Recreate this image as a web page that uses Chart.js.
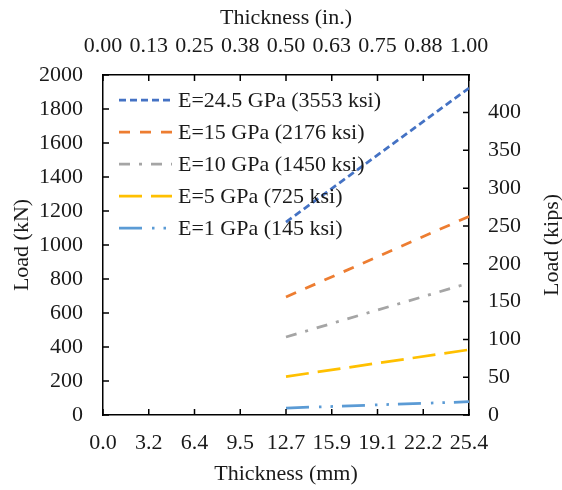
<!DOCTYPE html>
<html>
<head>
<meta charset="utf-8">
<script src="https://cdn.jsdelivr.net/npm/chart.js@4.4.1/dist/chart.umd.min.js"></script>
<style>
  html, body { margin: 0; padding: 0; background: #fff; }
  #wrap { width: 562px; height: 490px; }
</style>
</head>
<body>
<div id="wrap"><canvas id="chart" width="562" height="490"></canvas></div>
<script>
// ---------- datos ----------
const seriesNames = [
    'E=24.5 GPa (3553 ksi)',
    'E=15 GPa (2176 ksi)',
    'E=10 GPa (1450 ksi)',
    'E=5 GPa (725 ksi)',
    'E=1 GPa (145 ksi)'
];
const thicknessMm = [12.7, 25.4];
const loadE245 = [1135, 1923];
const loadE15 = [694, 1168];
const loadE10 = [459, 776];
const loadE5 = [226, 384];
const loadE1 = [41, 78];

const mmTickValues = [0, 3.175, 6.35, 9.525, 12.7, 15.875, 19.05, 22.225, 25.4];
const mmTickLabels = ['0.0', '3.2', '6.4', '9.5', '12.7', '15.9', '19.1', '22.2', '25.4'];
const inTickValues = [0, 0.125, 0.25, 0.375, 0.5, 0.625, 0.75, 0.875, 1];
const inTickLabels = ['0.00', '0.13', '0.25', '0.38', '0.50', '0.63', '0.75', '0.88', '1.00'];
const kNTickValues = [0, 200, 400, 600, 800, 1000, 1200, 1400, 1600, 1800, 2000];
const kipsTickValues = [0, 50, 100, 150, 200, 250, 300, 350, 400];
const KN_PER_KIP = 4.448222;

const FONT = "'Liberation Serif', 'Times New Roman', serif";
const FS = 22;
const TXT = '#1a1a1a';

const styles = [
    { color: '#4472c4', dash: [7, 4] },
    { color: '#ed7d31', dash: [11, 10] },
    { color: '#a5a5a5', dash: [11, 9, 3, 9] },
    { color: '#ffc000', dash: [23, 9] },
    { color: '#5b9bd5', dash: [23, 10, 2.5, 9, 2.5, 9] }
];
const seriesLoads = [loadE245, loadE15, loadE10, loadE5, loadE1];

const ctx = document.getElementById('chart');

// ---------- leyenda dentro del área ----------
const insideLegend = {
    id: 'insideLegend',
    afterDraw(chart) {
        const c = chart.ctx;
        const a = chart.chartArea;
        const x0 = a.left + 16;
        let y = a.top + 25;
        c.save();
        c.font = FS + 'px ' + FONT;
        c.textBaseline = 'middle';
        c.fillStyle = TXT;
        chart.data.datasets.forEach(ds => {
            c.beginPath();
            c.strokeStyle = ds.borderColor;
            c.lineWidth = ds.borderWidth;
            c.setLineDash(ds.borderDash);
            c.moveTo(x0, y);
            c.lineTo(x0 + 53, y);
            c.stroke();
            c.setLineDash([]);
            c.fillText(ds.label, x0 + 59, y + 1);
            y += 32;
        });
        c.restore();
    }
};

// ---------- marcas hacia dentro + título derecho ----------
const insideTicks = {
    id: 'insideTicks',
    afterDatasetsDraw(chart) {
        const c = chart.ctx;
        const a = chart.chartArea;
        const len = 6;
        c.save();
        c.strokeStyle = '#000';
        c.lineWidth = 1.5;
        c.beginPath();
        chart.scales.x.ticks.forEach(t => {
            const px = chart.scales.x.getPixelForValue(t.value);
            c.moveTo(px, a.bottom); c.lineTo(px, a.bottom - len);
        });
        chart.scales.x2.ticks.forEach(t => {
            const px = chart.scales.x2.getPixelForValue(t.value);
            c.moveTo(px, a.top); c.lineTo(px, a.top + len);
        });
        chart.scales.y.ticks.forEach(t => {
            const py = chart.scales.y.getPixelForValue(t.value);
            c.moveTo(a.left, py); c.lineTo(a.left + len, py);
        });
        chart.scales.y2.ticks.forEach(t => {
            const py = chart.scales.y2.getPixelForValue(t.value);
            c.moveTo(a.right, py); c.lineTo(a.right - len, py);
        });
        c.stroke();

        // el título de la derecha se lee de abajo hacia arriba
        c.translate(552, (a.top + a.bottom) / 2);
        c.rotate(-Math.PI / 2);
        c.font = FS + 'px ' + FONT;
        c.fillStyle = TXT;
        c.textAlign = 'center';
        c.textBaseline = 'middle';
        c.fillText('Load (kips)', 0, 0);
        c.restore();
    }
};

function setTicks(values) {
    return (scale) => { scale.ticks = values.map(v => ({ value: v })); };
}
function fixWidth(w) {
    return (scale) => { scale.width = w; };
}
function fixHeight(h) {
    return (scale) => { scale.height = h; };
}

const axisBase = {
    grid: { display: true, drawOnChartArea: false, drawTicks: false },
    border: { display: true, color: '#000', width: 1.5 },
};
const tickFont = { family: FONT, size: FS };

new Chart(ctx, {
    type: 'line',
    data: {
        datasets: seriesNames.map((name, i) => ({
            label: name,
            data: thicknessMm.map((x, j) => ({ x: x, y: seriesLoads[i][j] })),
            borderColor: styles[i].color,
            borderDash: styles[i].dash,
            borderWidth: 2.75,
            pointRadius: 0,
            tension: 0,
            xAxisID: 'x',
            yAxisID: 'y'
        }))
    },
    options: {
        responsive: false,
        animation: false,
        layout: { padding: 0 },
        plugins: {
            legend: { display: false },
            tooltip: { enabled: false }
        },
        scales: {
            x: {
                ...axisBase,
                type: 'linear',
                position: 'bottom',
                min: 0,
                max: 25.4,
                afterBuildTicks: setTicks(mmTickValues),
                afterFit: fixHeight(75),
                ticks: {
                    color: TXT,
                    font: tickFont,
                    padding: 15,
                    maxRotation: 0,
                    autoSkip: false,
                    callback: (v, i) => mmTickLabels[i]
                },
                title: {
                    display: true,
                    text: 'Thickness (mm)',
                    color: TXT,
                    font: tickFont,
                    padding: { top: 0, bottom: 3 }
                }
            },
            x2: {
                ...axisBase,
                type: 'linear',
                position: 'top',
                min: 0,
                max: 1,
                afterBuildTicks: setTicks(inTickValues),
                afterFit: fixHeight(75),
                ticks: {
                    color: TXT,
                    font: tickFont,
                    padding: 16,
                    maxRotation: 0,
                    autoSkip: false,
                    callback: (v, i) => inTickLabels[i]
                },
                title: {
                    display: true,
                    text: 'Thickness (in.)',
                    color: TXT,
                    font: tickFont,
                    padding: { top: 5, bottom: 0 }
                }
            },
            y: {
                ...axisBase,
                type: 'linear',
                position: 'left',
                min: 0,
                max: 2000,
                afterBuildTicks: setTicks(kNTickValues),
                afterFit: fixWidth(103),
                ticks: {
                    color: TXT,
                    font: tickFont,
                    padding: 20,
                    autoSkip: false,
                    callback: (v) => String(v)
                },
                title: {
                    display: true,
                    text: 'Load (kN)',
                    color: TXT,
                    font: tickFont,
                    padding: { top: 9, bottom: 0 }
                }
            },
            y2: {
                ...axisBase,
                type: 'linear',
                position: 'right',
                min: 0,
                max: 2000 / KN_PER_KIP,
                afterBuildTicks: setTicks(kipsTickValues),
                afterFit: fixWidth(93),
                ticks: {
                    color: TXT,
                    font: tickFont,
                    padding: 19,
                    autoSkip: false,
                    callback: (v) => String(v)
                }
            }
        }
    },
    plugins: [insideTicks, insideLegend]
});
</script>
</body>
</html>
